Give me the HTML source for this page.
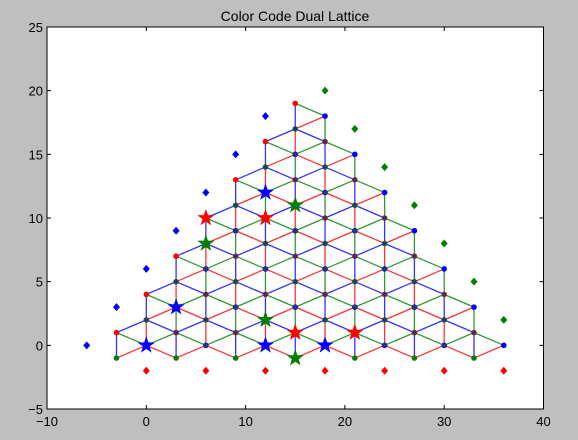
<!DOCTYPE html>
<html><head><meta charset="utf-8"><style>
body{margin:0;background:#bfbfbf;}
svg{display:block;font-family:"Liberation Sans",sans-serif;}
</style></head><body>
<svg id="chart" width="578" height="440">
<rect x="0" y="0" width="578" height="440" fill="#bfbfbf"/>
<rect x="47" y="27" width="496.5" height="382" fill="#fff"/>
<text x="295" y="21" text-anchor="middle" font-size="14">Color Code Dual Lattice</text>
<g id="edges"></g>
<g id="marks"></g>
<rect x="47" y="27" width="496.5" height="382" fill="none" stroke="#000" stroke-width="1"/>
<g id="axes"></g>
</svg>
<script>
const xTicks=[-10,0,10,20,30,40];
const yTicks=[-5,0,5,10,15,20,25];
const starX=[0,12,18,3,12,15,15,21,12,6,6,12,15];
const starY=[0,0,0,3,12,-1,11,1,2,8,10,10,1];
const blueDiamondX=[-6,-3,0,3,6,9,12];
const blueDiamondY=[0,3,6,9,12,15,18];
const greenDiamondX=[18,21,24,27,30,33,36];
const greenDiamondY=[20,17,14,11,8,5,2];
const redDiamondX=[0,6,12,18,24,30,36];
const redDiamondY=[-2,-2,-2,-2,-2,-2,-2];
const colCount=14; // columns x = -3 .. 36 step 3

const X0=47,X1=543.5,Y0=409,Y1=27;
function sx(v){return X0+(v+10)/50*(X1-X0);}
function sy(v){return Y0-(v+5)/30*(Y0-Y1);}
const NS="http://www.w3.org/2000/svg";
const COL=['#0000ff','#007f00','#ff0000']; // blue, green, red
function vcol(y){return ((2*y)%3+3)%3;}
function exists(x,y){
  const i=x/3;
  if(!Number.isInteger(i)||i<-1||i>12) return false;
  if(((y-i)%2+2)%2!==0) return false;
  const bottom=(((i%2)+2)%2===0)?0:-1;
  const top=Math.min(x+4,36-x);
  return y>=bottom&&y<=top;
}
const edges=document.getElementById('edges');
const verts=[];
for(let c=0;c<colCount;c++){
  const x=-3+3*c;
  for(let y=-1;y<=20;y++) if(exists(x,y)) verts.push([x,y]);
}
const nb=[[0,2],[3,1],[3,-1]];
verts.forEach(([x,y])=>{
  nb.forEach(([dx,dy])=>{
    const x2=x+dx,y2=y+dy;
    if(!exists(x2,y2))return;
    const c=3-vcol(y)-vcol(y2);
    const l=document.createElementNS(NS,'line');
    
    
    l.setAttribute('x1',sx(x));l.setAttribute('y1',sy(y));
    l.setAttribute('x2',sx(x2));l.setAttribute('y2',sy(y2));
    l.setAttribute('stroke',COL[c]);l.setAttribute('stroke-width','1.3');l.setAttribute('stroke-opacity','0.8');
    edges.appendChild(l);
  });
});
const marks=document.getElementById('marks');
const allNb=[[0,2],[0,-2],[3,1],[3,-1],[-3,1],[-3,-1]];
verts.forEach(([x,y])=>{
  const d=document.createElementNS(NS,'circle');
  
  
  d.setAttribute('cx',sx(x));d.setAttribute('cy',sy(y));d.setAttribute('r','2.8');
  d.setAttribute('fill',COL[vcol(y)]);
  marks.appendChild(d);
  const deg=allNb.filter(([dx,dy])=>exists(x+dx,y+dy)).length;
  if(deg>=5){
    const o=document.createElementNS(NS,'circle');
    
    
    o.setAttribute('cx',sx(x));o.setAttribute('cy',sy(y));o.setAttribute('r','2.2');
    o.setAttribute('fill','#1f3f6a');
    marks.appendChild(o);
  }
});
function starPts(cx,cy,R){
  let p=[];for(let k=0;k<10;k++){const r=k%2?R*0.4:R;const a=-Math.PI/2+k*Math.PI/5;p.push((cx+r*Math.cos(a)).toFixed(1)+','+(cy+r*Math.sin(a)).toFixed(1));}
  return p.join(' ');
}
for(let i=0;i<starX.length;i++){
  const s=document.createElementNS(NS,'polygon');
  
  
  s.setAttribute('points',starPts(sx(starX[i]),sy(starY[i]),9));
  s.setAttribute('fill',COL[vcol(starY[i])]);
  marks.appendChild(s);
}
function diamonds(xs,ys,color,name){
  for(let i=0;i<xs.length;i++){
    const cx=sx(xs[i]),cy=sy(ys[i]);
    const p=document.createElementNS(NS,'polygon');
    
    
    p.setAttribute('points',`${cx},${cy-4} ${cx+3.5},${cy} ${cx},${cy+4} ${cx-3.5},${cy}`);
    p.setAttribute('fill',color);
    marks.appendChild(p);
  }
}
diamonds(blueDiamondX,blueDiamondY,COL[0],'blue-diamond');
diamonds(greenDiamondX,greenDiamondY,COL[1],'green-diamond');
diamonds(redDiamondX,redDiamondY,COL[2],'red-diamond');
const axes=document.getElementById('axes');
xTicks.forEach(v=>{
  const x=sx(v);
  const t=document.createElementNS(NS,'path');
  
  
  t.setAttribute('d',`M${x},${Y0}v-4M${x},${Y1}v4`);t.setAttribute('stroke','#000');
  axes.appendChild(t);
  const l=document.createElementNS(NS,'text');
  
  
  l.setAttribute('x',x);l.setAttribute('y',Y0+17);l.setAttribute('text-anchor','middle');l.setAttribute('font-size','13');
  l.textContent=v<0?'\u2212'+(-v):v;
  axes.appendChild(l);
});
yTicks.forEach(v=>{
  const y=sy(v);
  const t=document.createElementNS(NS,'path');
  
  
  t.setAttribute('d',`M${X0},${y}h4M${X1},${y}h-4`);t.setAttribute('stroke','#000');
  axes.appendChild(t);
  const l=document.createElementNS(NS,'text');
  
  
  l.setAttribute('x',X0-4);l.setAttribute('y',y+5);l.setAttribute('text-anchor','end');l.setAttribute('font-size','13');
  l.textContent=v<0?'\u2212'+(-v):v;
  axes.appendChild(l);
});
</script>
</body></html>
